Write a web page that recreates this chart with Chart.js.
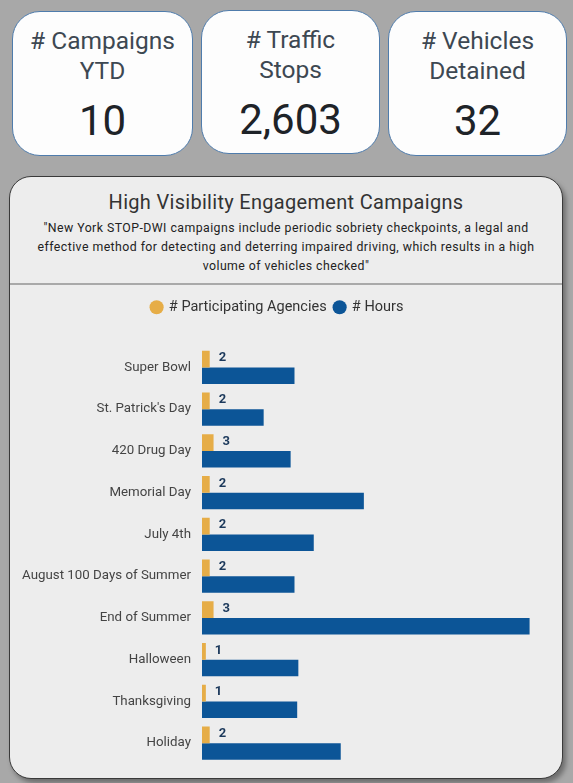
<!DOCTYPE html>
<html>
<head>
<meta charset="utf-8">
<script src="https://cdn.jsdelivr.net/npm/chart.js@4.4.0/dist/chart.umd.min.js"></script>
<style>
  body { margin:0; width:573px; height:783px; background:#a8a8a8; font-family: Roboto, "Noto Sans", sans-serif; position:relative; overflow:hidden; }
  .card { position:absolute; background:#fdfdfd; border:1.5px solid #4f7cac; border-radius:28px; text-align:center; box-sizing:border-box; }
  .card .lbl { color:#3d4852; font-size:24.5px; line-height:30px; margin-top:14px; }
  .card .num { color:#1e2328; font-size:42px; line-height:48px; margin-top:11px; }
  .panel { position:absolute; left:9px; top:176px; width:554px; height:603px; background:#ededed; border:1.5px solid #3a3a3a; border-radius:22px; box-sizing:border-box; box-shadow:3px 4px 5px rgba(0,0,0,0.35); }
  .title { position:absolute; left:0; right:0; top:13px; text-align:center; font-size:20px; letter-spacing:0.3px; color:#333; }
  .sub { position:absolute; left:0; right:0; top:42px; text-align:center; font-size:12.3px; letter-spacing:0.45px; line-height:19px; color:#222; }
  .divider { position:absolute; left:0; right:0; top:106px; height:2px; background:#a9a9a9; }
  #wrap { position:absolute; left:10px; top:292px; width:552px; height:483px; }
</style>
</head>
<body>
<div class="card" style="left:12px;top:11px;width:181px;height:145px"><div class="lbl"># Campaigns<br>YTD</div><div class="num" id="k1"></div></div>
<div class="card" style="left:201px;top:10px;width:179px;height:144px"><div class="lbl"># Traffic<br>Stops</div><div class="num" id="k2"></div></div>
<div class="card" style="left:388px;top:11px;width:179px;height:145px"><div class="lbl"># Vehicles<br>Detained</div><div class="num" id="k3"></div></div>

<div class="panel">
  <div class="title">High Visibility Engagement Campaigns</div>
  <div class="sub">"New York STOP-DWI campaigns include periodic sobriety checkpoints, a legal and<br>effective method for detecting and deterring impaired driving, which results in a high<br>volume of vehicles checked"</div>
  <div class="divider"></div>
</div>
<div id="wrap"><canvas id="chart"></canvas></div>

<script>
// KPI values
const kpiValues = ['10', '2,603', '32'];

// campaign data
const campaigns = ['Super Bowl', "St. Patrick's Day", '420 Drug Day', 'Memorial Day', 'July 4th',
  'August 100 Days of Summer', 'End of Summer', 'Halloween', 'Thanksgiving', 'Holiday'];
const agencies = [2, 2, 3, 2, 2, 2, 3, 1, 1, 2];
const hours = [24, 16, 23, 42, 29, 24, 85, 25, 24.7, 36];

document.getElementById('k1').textContent = kpiValues[0];
document.getElementById('k2').textContent = kpiValues[1];
document.getElementById('k3').textContent = kpiValues[2];

const gold = '#e6ad47';
const blue = '#0c5597';

// bigger gap under the legend
const legendGap = {
  id: 'legendGap',
  beforeInit(chart) {
    const fit = chart.legend.fit;
    chart.legend.fit = function () { fit.bind(chart.legend)(); this.height += 22; };
  }
};

// value labels for agencies only
const agencyLabels = {
  id: 'agencyLabels',
  afterDatasetsDraw(chart) {
    const ctx = chart.ctx;
    const meta = chart.getDatasetMeta(0);
    ctx.save();
    ctx.font = 'bold 13px Roboto, sans-serif';
    ctx.fillStyle = '#1d3a5c';
    ctx.textBaseline = 'middle';
    ctx.textAlign = 'left';
    meta.data.forEach((bar, i) => {
      ctx.fillText(agencies[i], bar.x + 9, bar.y - 1);
    });
    ctx.restore();
  }
};

new Chart(document.getElementById('chart'), {
  type: 'bar',
  data: {
    labels: campaigns,
    datasets: [
      { label: '# Participating Agencies', data: agencies, backgroundColor: gold, categoryPercentage: 0.8, barPercentage: 1 },
      { label: '# Hours', data: hours, backgroundColor: blue, categoryPercentage: 0.8, barPercentage: 1 }
    ]
  },
  options: {
    indexAxis: 'y',
    responsive: true,
    maintainAspectRatio: false,
    animation: false,
    layout: { padding: { left: 0, right: 17, top: 0, bottom: 0 } },
    plugins: {
      tooltip: { enabled: false },
      legend: {
        position: 'top',
        labels: { usePointStyle: true, pointStyle: 'circle', boxWidth: 10, boxHeight: 10, padding: 8,
          color: '#333', font: { size: 14.5, family: 'Roboto' } }
      }
    },
    scales: {
      x: { display: false, min: 0, max: 89 },
      y: {
        grid: { display: false },
        border: { display: false },
        ticks: { color: '#444', padding: 3, font: { size: 13.3, family: 'Roboto' } },
        afterFit(scale) { scale.width = 192; }
      }
    }
  },
  plugins: [legendGap, agencyLabels]
});
</script>
</body>
</html>
